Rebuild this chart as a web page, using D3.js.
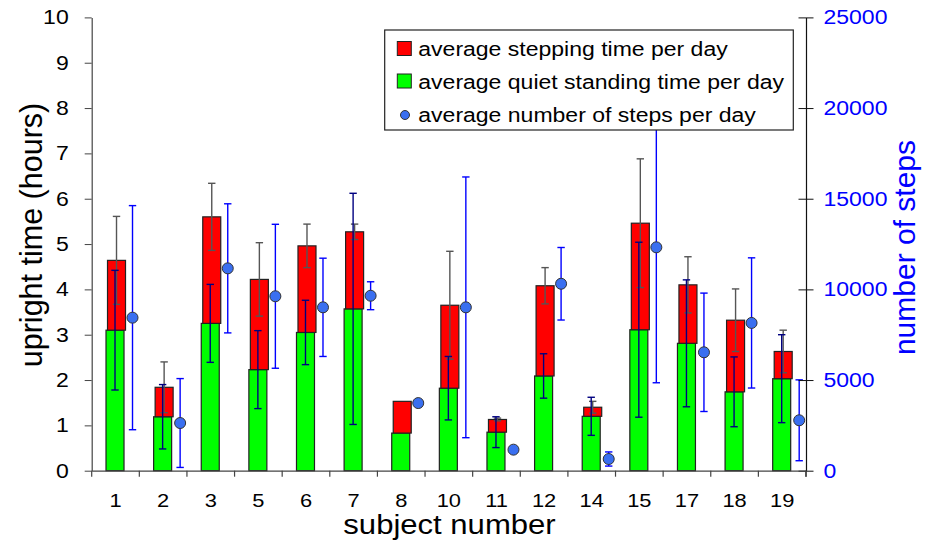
<!DOCTYPE html>
<html><head><meta charset="utf-8">
<script src="https://cdn.jsdelivr.net/npm/d3@7"></script>
<style>body{margin:0;background:#fff} text{font-family:"Liberation Sans",Arial,sans-serif}</style>
</head><body><svg id="c" width="925" height="542"></svg>
<script>
const subjects   = ["1","2","3","5","6","7","8","10","11","12","14","15","17","18","19"];
const standing   = [3.10,1.19,3.25,2.23,3.05,3.57,0.83,1.82,0.85,2.09,1.20,3.11,2.81,1.74,2.03];
const stepping   = [1.54,0.65,2.35,1.99,1.91,1.70,0.70,1.83,0.28,1.99,0.20,2.35,1.29,1.58,0.60];
const standingSD = [1.32,0.71,0.86,0.86,0.71,2.55,0,0.70,0.34,0.49,0.42,1.93,1.40,0.77,0.97];
const steppingSD = [0.97,0.56,0.74,0.81,0.48,0.17,0,1.19,0.03,0.40,0.13,1.42,0.62,0.69,0.47];
const steps      = [8440,2630,11160,9620,9010,9650,3730,9010,1160,10310,645,12320,6530,8150,2780];
const stepsSD    = [6180,2450,3560,3970,2710,770,0,7190,0,2000,390,7470,3265,3590,2230];
const hourTicks  = [0,1,2,3,4,5,6,7,8,9,10];
const stepTicks  = [0,5000,10000,15000,20000,25000];
const legendLabels = ["average stepping time per day","average quiet standing time per day","average number of steps per day"];

const SX = 1.15;
function stretch(sel){ sel.each(function(){ const L=this.getComputedTextLength(); this.setAttribute("textLength", L*SX); this.setAttribute("lengthAdjust","spacingAndGlyphs"); }); }

const svg = d3.select("#c");
const L = 91.7, R = 806, T = 17.4, B = 470.7;
const x = d3.scaleBand().domain(subjects).range([L, R]);
const y = d3.scaleLinear().domain([0,10]).range([B, T]);
const y2 = d3.scaleLinear().domain([0,25000]).range([B, T]);
const bw = 18;
const data = subjects.map((s,i)=>({s, st:standing[i], sp:stepping[i], stSD:standingSD[i], spSD:steppingSD[i], n:steps[i], nSD:stepsSD[i]}));
const cx = d => x(d.s) + x.bandwidth()/2;

// green bars
svg.append("g").selectAll("rect").data(data).join("rect")
  .attr("x", d=>cx(d)-9.5).attr("width", bw)
  .attr("y", d=>y(d.st)).attr("height", d=>B-y(d.st))
  .attr("fill","#00ff00").attr("stroke","#222").attr("stroke-width",1.2);
// red bars
svg.append("g").selectAll("rect").data(data).join("rect")
  .attr("x", d=>cx(d)-8).attr("width", bw)
  .attr("y", d=>y(d.st+d.sp)).attr("height", d=>y(d.st)-y(d.st+d.sp))
  .attr("fill","#ff0000").attr("stroke","#222").attr("stroke-width",1.2);

function errBar(g, xx, y1, y0, color, cap){
  g.append("line").attr("x1",xx).attr("x2",xx).attr("y1",y1).attr("y2",y0).attr("stroke",color).attr("stroke-width",1.4);
  [y1,y0].forEach(v=>g.append("line").attr("x1",xx-cap).attr("x2",xx+cap).attr("y1",v).attr("y2",v).attr("stroke",color).attr("stroke-width",1.4));
}
const eg = svg.append("g");
data.forEach(d=>{
  if(d.spSD>0){ const top=d.st+d.sp; errBar(eg, cx(d)+1, y(top+d.spSD), y(top-d.spSD), "#555", 3.7); }
  if(d.stSD>0){ errBar(eg, cx(d)-0.5, y(d.st+d.stSD), y(d.st-d.stSD), "#000080", 3.7); }
  if(d.nSD>0){ errBar(eg, cx(d)+17, y2(d.n+d.nSD), y2(d.n-d.nSD), "#0000ff", 3.7); }
});
svg.append("g").selectAll("circle").data(data).join("circle")
  .attr("cx", d=>cx(d)+17).attr("cy", d=>y2(d.n)).attr("r",5.5)
  .attr("fill","#3a6ff0").attr("stroke","#333").attr("stroke-width",1);

// left axis
const ga = svg.append("g").attr("transform",`translate(${L},0)`)
  .call(d3.axisLeft(y).tickValues(hourTicks).tickSize(7).tickPadding(16).tickSizeOuter(0));
ga.select(".domain").attr("stroke","#444").attr("stroke-width",1.2);
ga.selectAll(".tick line").attr("stroke","#444");
ga.selectAll("text").attr("font-size",20).attr("fill","#000").attr("font-family","Liberation Sans, Arial, sans-serif");
stretch(ga.selectAll("text"));

// right axis
const gr = svg.append("g").attr("transform",`translate(${R},0)`)
  .call(d3.axisRight(y2).tickValues(stepTicks).tickFormat(d3.format("d")).tickSize(7.5).tickPadding(10).tickSizeOuter(0));
gr.select(".domain").attr("stroke","#111").attr("stroke-width",1.2);
gr.selectAll(".tick line").attr("x1",-7.5).attr("stroke","#111");
gr.selectAll("text").attr("font-size",20).attr("fill","#0000ff").attr("font-family","Liberation Sans, Arial, sans-serif");
stretch(gr.selectAll("text"));
gr.append("line").attr("x1",0).attr("x2",0).attr("y1",B).attr("y2",B+6).attr("stroke","#111").attr("stroke-width",1.2);

// bottom axis
const gb = svg.append("g").attr("transform",`translate(0,${B})`)
  .call(d3.axisBottom(x).tickSize(0).tickPadding(0).tickSizeOuter(0));
gb.select(".domain").attr("stroke","#444").attr("stroke-width",1.2);
gb.selectAll("text").attr("font-size",19).attr("fill","#000").attr("dy",null).attr("y",36)
  .attr("font-family","Liberation Sans, Arial, sans-serif");
stretch(gb.selectAll("text"));
const bounds = subjects.map(s=>x(s)).concat([x(subjects[subjects.length-1])+x.bandwidth()]);
gb.selectAll("line.bt").data(bounds).join("line").attr("class","bt")
  .attr("x1",d=>d).attr("x2",d=>d).attr("y1",0).attr("y2",6).attr("stroke","#444").attr("stroke-width",1.2);

// axis titles
const xt = svg.append("text").attr("x",449.5).attr("y",534).attr("text-anchor","middle")
  .attr("font-size",27).text("subject number");
stretch(xt);
svg.append("text").attr("transform","translate(42,235) rotate(-90)").attr("text-anchor","middle")
  .attr("font-size",30.5).text("upright time (hours)");
svg.append("text").attr("transform","translate(915,247.5) rotate(-90)").attr("text-anchor","middle")
  .attr("font-size",30).attr("fill","#0000ff").text("number of steps");

// legend
const lg = svg.append("g");
lg.append("rect").attr("x",384.7).attr("y",30).attr("width",408.6).attr("height",100)
  .attr("fill","#fff").attr("stroke","#222").attr("stroke-width",1.2);
const base = [56,88.5,121.5];
lg.append("rect").attr("x",397.3).attr("y",base[0]-14.5).attr("width",14).attr("height",14).attr("fill","#ff0000").attr("stroke","#222");
lg.append("rect").attr("x",397.3).attr("y",base[1]-14.5).attr("width",14).attr("height",14).attr("fill","#00ff00").attr("stroke","#222");
lg.append("circle").attr("cx",405).attr("cy",base[2]-6.5).attr("r",4.5).attr("fill","#3a6ff0").attr("stroke","#333");
const lt = lg.selectAll("text.lt").data(legendLabels).join("text").attr("class","lt")
  .attr("x",418.3).attr("y",(d,i)=>base[i]).attr("font-size",20).text(d=>d);
stretch(lt);
</script></body></html>
